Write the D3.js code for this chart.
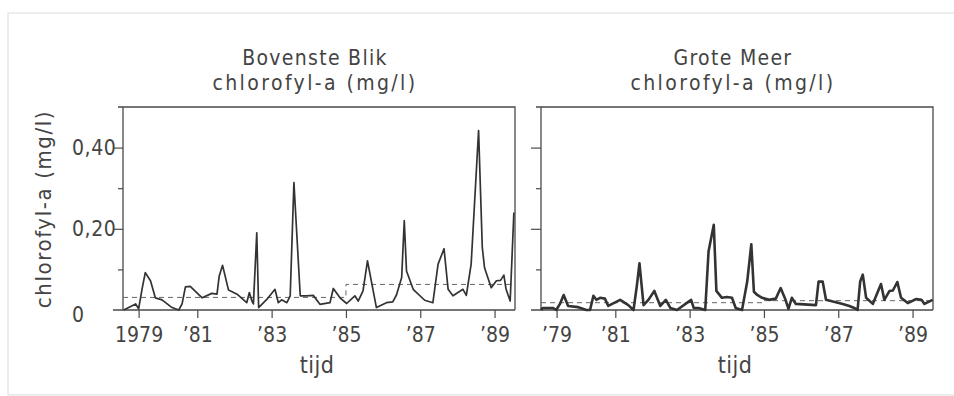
<!DOCTYPE html>
<html>
<head>
<meta charset="utf-8">
<script src="https://cdn.jsdelivr.net/npm/d3@7"></script>
<style>
  body { margin: 0; background: #fff; }
  text { font-family: 'Liberation Sans Narrow', 'DejaVu Sans Condensed', sans-serif; fill: #444; }
</style>
</head>
<body>
<script>
// Bovenste Blik (decimal year, mg/l)
let blikYears = [1979.02, 1979.34, 1979.42, 1979.52, 1979.60, 1979.74, 1979.87, 1980.05, 1980.32, 1980.50,
  1980.59, 1980.68, 1980.81, 1981.13, 1981.39, 1981.53, 1981.59, 1981.68, 1981.84, 1982.07,
  1982.33, 1982.40, 1982.47, 1982.51, 1982.60, 1982.65, 1982.87, 1983.09, 1983.18, 1983.27,
  1983.41, 1983.50, 1983.60, 1983.77, 1983.94, 1984.12, 1984.30, 1984.57, 1984.66, 1984.84,
  1985.02, 1985.24, 1985.33, 1985.46, 1985.58, 1985.82, 1986.09, 1986.26, 1986.36, 1986.50,
  1986.57, 1986.63, 1986.81, 1987.12, 1987.34, 1987.48, 1987.64, 1987.75, 1987.88, 1988.15,
  1988.24, 1988.37, 1988.57, 1988.67, 1988.73, 1988.91, 1989.05, 1989.16, 1989.25, 1989.31,
  1989.42, 1989.52]
let blikValues = [0.000, 0.015, 0.003, 0.055, 0.092, 0.072, 0.030, 0.025, 0.006, 0.000,
  0.015, 0.057, 0.058, 0.030, 0.041, 0.039, 0.084, 0.110, 0.049, 0.039,
  0.018, 0.043, 0.022, 0.015, 0.190, 0.006, 0.026, 0.051, 0.018, 0.025,
  0.018, 0.035, 0.314, 0.035, 0.035, 0.036, 0.014, 0.018, 0.053, 0.030,
  0.016, 0.035, 0.022, 0.047, 0.121, 0.006, 0.018, 0.020, 0.037, 0.080,
  0.220, 0.096, 0.051, 0.024, 0.018, 0.113, 0.151, 0.051, 0.035, 0.051,
  0.036, 0.113, 0.442, 0.154, 0.104, 0.055, 0.072, 0.073, 0.086, 0.051,
  0.022, 0.240]

// Grote Meer
let meerYears = [1979.00, 1979.05, 1979.32, 1979.41, 1979.51, 1979.61, 1979.73, 1980.00, 1980.22, 1980.32,
  1980.41, 1980.49, 1980.59, 1980.72, 1980.81, 1981.13, 1981.35, 1981.49, 1981.58, 1981.65,
  1981.76, 1981.89, 1982.05, 1982.21, 1982.36, 1982.48, 1982.66, 1983.04, 1983.11, 1983.24,
  1983.42, 1983.51, 1983.65, 1983.72, 1983.87, 1984.01, 1984.14, 1984.24, 1984.41, 1984.55,
  1984.66, 1984.73, 1984.82, 1984.95, 1985.14, 1985.32, 1985.45, 1985.57, 1985.66, 1985.75,
  1985.86, 1986.40, 1986.47, 1986.58, 1986.67, 1987.12, 1987.30, 1987.43, 1987.52, 1987.59,
  1987.66, 1987.75, 1987.93, 1988.15, 1988.24, 1988.38, 1988.47, 1988.59, 1988.69, 1988.87,
  1989.10, 1989.24, 1989.32, 1989.54]
let meerValues = [0.000, 0.005, 0.005, 0.000, 0.015, 0.037, 0.010, 0.007, 0.000, 0.000,
  0.035, 0.025, 0.030, 0.028, 0.010, 0.025, 0.012, 0.000, 0.060, 0.115,
  0.012, 0.025, 0.047, 0.010, 0.025, 0.005, 0.000, 0.025, 0.005, 0.005,
  0.000, 0.145, 0.210, 0.047, 0.030, 0.032, 0.030, 0.005, 0.000, 0.070,
  0.162, 0.045, 0.037, 0.030, 0.025, 0.028, 0.054, 0.028, 0.003, 0.030,
  0.015, 0.012, 0.070, 0.070, 0.025, 0.015, 0.010, 0.005, 0.000, 0.070,
  0.087, 0.030, 0.015, 0.064, 0.025, 0.047, 0.048, 0.069, 0.030, 0.017,
  0.027, 0.025, 0.015, 0.025]

// mean levels before / after 1985 (dashed)
let meanBreaks = [1979.0, 1985.0, 1989.55]
let blikMean = [0.031, 0.063]
let meerMean = [0.018, 0.023]

let tickYears = [1979.42, 1981, 1983, 1985, 1987, 1989]
let blikTickLabels = ['1979', '\u201981', '\u201983', '\u201985', '\u201987', '\u201989']
let meerTickLabels = ['\u201979', '\u201981', '\u201983', '\u201985', '\u201987', '\u201989']
let yMajor = [0, 0.4, 0.2]
let yMajorLabels = ['0', '0,40', '0,20']
let yMinor = [0.1, 0.3]

let width = 954
let height = 396
let plotTop = 107
let plotBottom = 310
let panelW = 392

let svg = d3.select('body').append('svg').attr('width', width).attr('height', height)

// faint outer frame of the scanned figure
svg.append('rect').attr('x', 8).attr('y', 13).attr('width', 980).attr('height', 382)
   .attr('fill', 'none').attr('stroke', '#e2e2e2').attr('stroke-width', 1.2)

let yScale = d3.scaleLinear().domain([0, 0.5]).range([plotBottom, plotTop])

let drawPanel = (left, years, values, mean, tickLabels, titles, lineWidth, showYLabels) => {
    let xScale = d3.scaleLinear().domain([meanBreaks[0], meanBreaks[2]]).range([0, panelW])
    let g = svg.append('g').attr('transform', 'translate(' + left + ',0)')

    // frame
    g.append('path')
     .attr('d', 'M-5,' + plotTop + 'H' + panelW + 'V' + plotBottom + 'M0,' + plotTop + 'V' + plotBottom + 'M-10,' + plotBottom + 'H' + panelW)
     .attr('fill', 'none').attr('stroke', '#4a4a4a').attr('stroke-width', 1.3)

    // y ticks
    g.append('g').call(d3.axisLeft(yScale).tickValues(yMajor.filter(d => d > 0)).tickSize(10).tickFormat(''))
     .call(a => a.select('.domain').remove())
    g.append('g').call(d3.axisLeft(yScale).tickValues(yMinor).tickSize(5).tickFormat(''))
     .call(a => a.select('.domain').remove())
    g.selectAll('.tick line').attr('stroke', '#4a4a4a').attr('stroke-width', 1.2)

    if (showYLabels) {
        g.selectAll('.ylab').data(yMajor).enter().append('text')
         .attr('x', -51).attr('y', d => yScale(d) + (d == 0 ? 4 : 0)).attr('dy', '0.36em')
         .style('font-size', '21px').style('letter-spacing', '0.6px')
         .text((d, i) => yMajorLabels[i])
    }

    // x axis ticks
    let xa = g.append('g').attr('transform', 'translate(0,' + plotBottom + ')')
              .call(d3.axisBottom(xScale).tickValues(tickYears).tickSize(8).tickPadding(9)
              .tickFormat((d, i) => tickLabels[i]))
    xa.select('.domain').remove()
    xa.selectAll('line').attr('stroke', '#4a4a4a').attr('stroke-width', 1.2)
    xa.selectAll('text').attr('fill', '#444').style('font-size', '21px')
      .style('font-family', "'Liberation Sans Narrow', 'DejaVu Sans Condensed', sans-serif")
      .style('letter-spacing', '0px')

    // mean dashed line
    let meanPts = [[meanBreaks[0], mean[0]], [meanBreaks[1], mean[0]], [meanBreaks[1], mean[1]], [meanBreaks[2], mean[1]]]
    g.append('path').datum(meanPts)
     .attr('d', d3.line().x(d => xScale(d[0])).y(d => yScale(d[1])))
     .attr('fill', 'none').attr('stroke', '#666').attr('stroke-width', 1).attr('stroke-dasharray', '5,4')

    // data line
    g.append('path').datum(years.map((y, i) => [y, values[i]]))
     .attr('d', d3.line().x(d => xScale(d[0])).y(d => yScale(d[1])))
     .attr('fill', 'none').attr('stroke', '#333').attr('stroke-width', lineWidth)
     .attr('stroke-linejoin', 'round')

    // titles
    g.selectAll('.title').data(titles).enter().append('text')
     .attr('x', panelW / 2 - 4).attr('y', (d, i) => 65 + i * 25)
     .attr('text-anchor', 'middle').style('font-size', '21px').style('letter-spacing', (d, i) => i == 0 ? '1.3px' : '2.4px')
     .text(d => d)

    g.append('text').attr('x', panelW / 2 - 2).attr('y', 373).attr('text-anchor', 'middle')
     .style('font-size', '23px').style('letter-spacing', '0.5px').text('tijd')
}

drawPanel(123, blikYears, blikValues, blikMean, blikTickLabels, ['Bovenste Blik', 'chlorofyl-a (mg/l)'], 1.7, true)
drawPanel(541, meerYears, meerValues, meerMean, meerTickLabels, ['Grote Meer', 'chlorofyl-a (mg/l)'], 2.6, false)

svg.append('text')
   .attr('transform', 'translate(51,209) rotate(-90)')
   .attr('text-anchor', 'middle').style('font-size', '22px').style('letter-spacing', '1.6px')
   .text('chlorofyl-a (mg/l)')
</script>
</body>
</html>
